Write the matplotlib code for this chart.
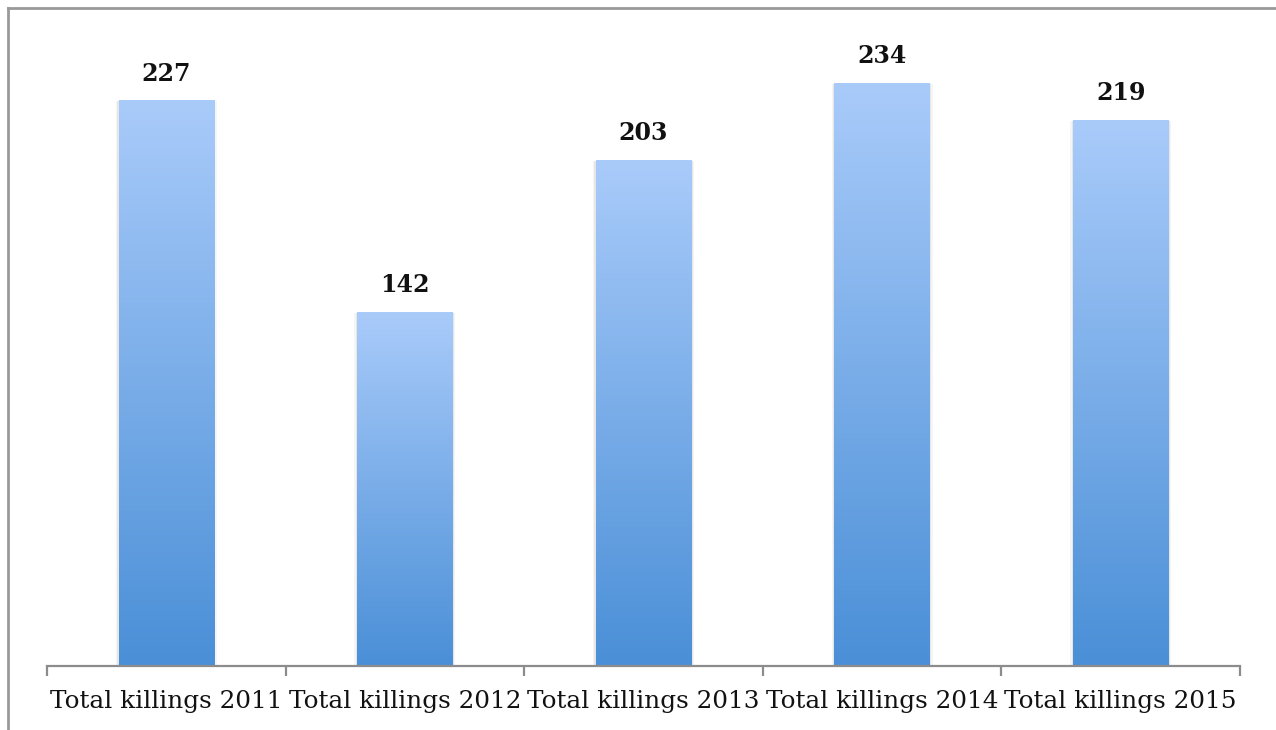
#!/usr/bin/env python3
"""Bar chart of total killings per year, with gradient-filled bars."""
import numpy as np
import matplotlib
matplotlib.use("Agg")
import matplotlib.pyplot as plt
from matplotlib.colors import LinearSegmentedColormap
from matplotlib.lines import Line2D
from matplotlib.patches import Rectangle

CATEGORIES = ["Total killings 2011", "Total killings 2012", "Total killings 2013",
              "Total killings 2014", "Total killings 2015"]
VALUES = [227, 142, 203, 234, 219]

W, H = 1276, 730
fig = plt.figure(figsize=(W / 100, H / 100), dpi=100)
ax = fig.add_axes([47 / W, 1 - 666 / H, (1240 - 47) / W, (666 - 20) / H])

x = np.arange(len(CATEGORIES))
bars = ax.bar(x, VALUES, width=0.4, color="none", edgecolor="none")

# vertical gradient: light at top, deeper blue at bottom
cmap = LinearSegmentedColormap.from_list("barblue", ["#4a8fd7", "#a9cbfa"])
grad = np.linspace(0, 1, 256).reshape(-1, 1)
for b in bars:
    x0, w, h = b.get_x(), b.get_width(), b.get_height()
    # faint soft shadow at the bar sides
    for pad, a in [(0.012, 0.04), (0.006, 0.06)]:
        ax.add_patch(Rectangle((x0 - pad, 0), w + 2 * pad, h, color="#000000",
                               alpha=a, lw=0, zorder=1))
    ax.imshow(grad, cmap=cmap, origin="lower", aspect="auto",
              extent=[x0, x0 + w, 0, h], zorder=2)
    ax.text(x0 + w / 2, h + 8.2, f"{int(h)}", ha="center", va="baseline",
            fontsize=17, fontweight="bold", family="DejaVu Serif", color="#111111")

ax.set_xlim(-0.5, len(CATEGORIES) - 0.5)
ax.set_ylim(0, 646 / 2.489)

for s in ["top", "right", "left"]:
    ax.spines[s].set_visible(False)
ax.spines["bottom"].set_color("#8c8c8c")
ax.spines["bottom"].set_linewidth(1.6)
ax.spines["bottom"].set_zorder(3)
ax.set_yticks([])

ax.set_xticks(np.arange(len(CATEGORIES) + 1) - 0.5)
ax.set_xticklabels([])
ax.tick_params(axis="x", direction="out", length=7, width=1.6, color="#8c8c8c")
ax.set_xticks(x, minor=True)
ax.set_xticklabels(CATEGORIES, minor=True, fontsize=17.8, family="DejaVu Serif",
                   color="#111111")
ax.tick_params(axis="x", which="minor", length=0, pad=17)

# outer frame (top and left edges visible in the image)
fig.add_artist(Line2D([8 / W, 8 / W], [0, 1 - 8 / H], transform=fig.transFigure,
                      color="#999999", lw=2))
fig.add_artist(Line2D([8 / W, 1], [1 - 8 / H, 1 - 8 / H], transform=fig.transFigure,
                      color="#999999", lw=2))

fig.savefig("out.png", dpi=100)
